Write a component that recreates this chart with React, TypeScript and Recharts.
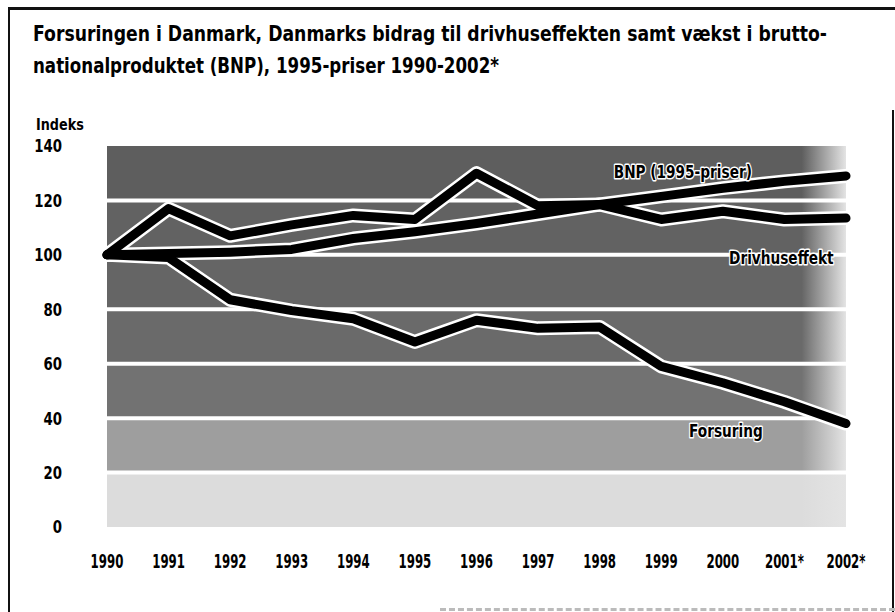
import { LineChart, Line, XAxis, YAxis, ReferenceArea, ReferenceLine, ReferenceDot } from 'recharts'

const years = [1990, 1991, 1992, 1993, 1994, 1995, 1996, 1997, 1998, 1999, 2000, 2001, 2002]
const bnp = [100, 100.5, 101, 102, 106, 108.5, 111.5, 115, 118.5, 121.5, 124.5, 127, 129]
const drivhus = [100, 117, 107, 111, 114.5, 113, 130, 118, 118.5, 113, 116, 113, 113.5]
const forsuring = [100, 99, 83.5, 79.5, 76.5, 68, 76, 73, 73.5, 59, 53, 46, 38]
const yTicks = [0, 20, 40, 60, 80, 100, 120, 140]
const provisional = [2001, 2002]

const FONT = "'DejaVu Sans', 'Liberation Sans', sans-serif"

// halftone-ish shading, darkest at the top, fading out towards zero
const bandShade = ['#dcdcdc', '#9e9e9e', '#727272', '#6a6a6a', '#656565', '#626262', '#5e5e5e']

const data = years.map((year, i) => ({
  year,
  bnp: bnp[i],
  drivhus: drivhus[i],
  forsuring: forsuring[i],
}))

const series = ['bnp', 'drivhus', 'forsuring']

function XTick(props: any) {
  const { x, y, payload } = props
  const v = payload.value
  const label = provisional.includes(v) ? `${v}*` : `${v}`
  return (
    <g transform={`translate(${x},${y})`}>
      <text
        transform="scale(0.62,1)"
        textAnchor="middle"
        dy="0.71em"
        fontFamily={FONT}
        fontWeight="bold"
        fontSize={19}
        fill="#000"
      >
        {label}
      </text>
    </g>
  )
}

function YTick(props: any) {
  const { x, y, payload } = props
  return (
    <g transform={`translate(${x},${y})`}>
      <text
        transform="scale(0.74,1)"
        textAnchor="end"
        dy="0.36em"
        fontFamily={FONT}
        fontWeight="bold"
        fontSize={18}
        fill="#000"
      >
        {payload.value}
      </text>
    </g>
  )
}

function lineLabel(text: string) {
  return (props: any) => {
    const { viewBox } = props
    const x = viewBox.x + viewBox.width / 2
    const y = viewBox.y + viewBox.height / 2
    return (
      <g transform={`translate(${x},${y})`}>
        <text
          transform="scale(0.76,1)"
          dy="0.36em"
          textAnchor="middle"
          fontFamily={FONT}
          fontWeight="bold"
          fontSize={18}
          fill="#000"
          stroke="#fff"
          strokeWidth={3}
          strokeLinejoin="round"
          paintOrder="stroke"
        >
          {text}
        </text>
      </g>
    )
  }
}

function TitleText({ x, y, len, children }: { x: number; y: number; len: number; children: string }) {
  return (
    <g transform={`translate(${x},${y}) scale(1,1.13)`}>
      <text
        x={0}
        y={0}
        textLength={len}
        lengthAdjust="spacingAndGlyphs"
        fontFamily={FONT}
        fontWeight="bold"
        fontSize={19.5}
        fill="#000"
      >
        {children}
      </text>
    </g>
  )
}

export default function App() {
  return (
    <div
      style={{
        position: 'absolute',
        left: 0,
        top: 0,
        width: 895,
        height: 612,
        background: '#fff',
        overflow: 'hidden',
      }}
    >
      {/* frame */}
      <div style={{ position: 'absolute', left: 8, top: 7, right: 0, height: 3, background: '#111' }} />
      <div style={{ position: 'absolute', left: 8, top: 7, bottom: 0, width: 2, background: '#111' }} />
      <div style={{ position: 'absolute', right: 1, top: 110, bottom: 0, width: 2, background: '#111' }} />
      <div
        style={{
          position: 'absolute',
          left: 440,
          right: 0,
          top: 608,
          borderTop: '3px dashed #bbb',
        }}
      />

      <svg style={{ position: 'absolute', left: 0, top: 0 }} width={895} height={140}>
        <TitleText x={33} y={41} len={794}>
          Forsuringen i Danmark, Danmarks bidrag til drivhuseffekten samt vækst i brutto-
        </TitleText>
        <TitleText x={33} y={73} len={466}>
          nationalproduktet (BNP), 1995-priser 1990-2002*
        </TitleText>
        <g transform="translate(36,130)">
          <text transform="scale(0.8,1)" fontFamily={FONT} fontWeight="bold" fontSize={16} fill="#000">
            Indeks
          </text>
        </g>
      </svg>

      <div style={{ position: 'absolute', left: 0, top: 0 }}>
        <LineChart width={895} height={612} data={data} margin={{ top: 146, right: 33, bottom: 25, left: 0 }}>
          <defs>
            {bandShade.map((c, i) => (
              <linearGradient key={i} id={`band-${i}`} x1="0" y1="0" x2="1" y2="0">
                <stop offset="0" stopColor={c} />
                <stop offset="0.94" stopColor={c} />
                <stop offset="1" stopColor="#e4e4e4" />
              </linearGradient>
            ))}
          </defs>
          <XAxis
            dataKey="year"
            type="number"
            domain={[1990, 2002]}
            ticks={years}
            padding={{ left: 30, right: 16 }}
            height={60}
            tickSize={0}
            tickMargin={27}
            axisLine={false}
            tick={(p: any) => <XTick {...p} />}
            interval={0}
          />
          <YAxis
            domain={[0, 140]}
            ticks={yTicks}
            width={77}
            tickSize={0}
            tickMargin={15}
            axisLine={false}
            tick={(p: any) => <YTick {...p} />}
            interval={0}
          />
          {yTicks.slice(0, -1).map((t, i) => (
            <ReferenceArea
              key={t}
              y1={t}
              y2={yTicks[i + 1]}
              fill={`url(#band-${i})`}
              fillOpacity={1}
              stroke="none"
            />
          ))}
          {yTicks.slice(1, -1).map((t) => (
            <ReferenceLine key={t} y={t} stroke="#fff" strokeWidth={4} />
          ))}
          {series.map((k) => (
            <Line
              key={`halo-${k}`}
              dataKey={k}
              stroke="#fff"
              strokeWidth={14}
              dot={false}
              activeDot={false}
              strokeLinejoin="round"
              strokeLinecap="round"
              isAnimationActive={false}
            />
          ))}
          {series.map((k) => (
            <Line
              key={k}
              dataKey={k}
              stroke="#000"
              strokeWidth={9}
              dot={false}
              activeDot={false}
              strokeLinejoin="round"
              strokeLinecap="round"
              isAnimationActive={false}
            />
          ))}
          <ReferenceDot x={1999.35} y={130.5} r={0} stroke="none" fill="none" label={lineLabel('BNP (1995-priser)')} />
          <ReferenceDot x={2000.95} y={99} r={0} stroke="none" fill="none" label={lineLabel('Drivhuseffekt')} />
          <ReferenceDot x={2000.05} y={35.3} r={0} stroke="none" fill="none" label={lineLabel('Forsuring')} />
        </LineChart>
      </div>
    </div>
  )
}
